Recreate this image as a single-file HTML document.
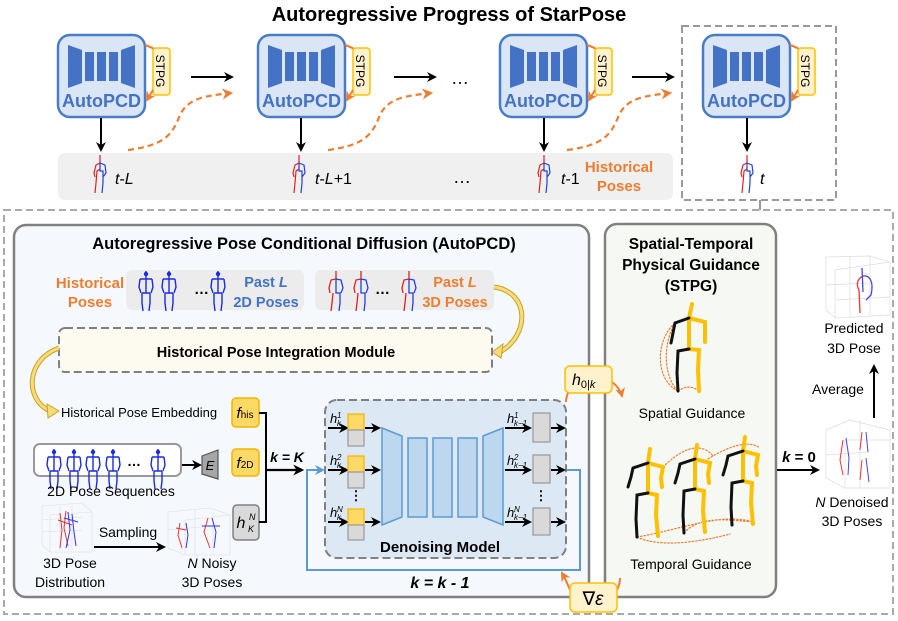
<!DOCTYPE html>
<html><head><meta charset="utf-8"><style>
html,body{margin:0;padding:0;background:#fff;}
svg{display:block;}
text{font-family:"Liberation Sans",sans-serif;}
</style></head><body>
<svg width="898" height="621" viewBox="0 0 898 621" xmlns="http://www.w3.org/2000/svg">
<defs>
<marker id="ak" viewBox="0 0 10 10" refX="8" refY="5" markerWidth="5" markerHeight="5" orient="auto"><path d="M0,0 L10,5 L0,10 L3,5z" fill="#000"/></marker>
<marker id="ao" viewBox="0 0 10 10" refX="8" refY="5" markerWidth="5" markerHeight="5" orient="auto"><path d="M0,0 L10,5 L0,10 L3,5z" fill="#ed7d31"/></marker>
<marker id="ab" viewBox="0 0 10 10" refX="8" refY="5" markerWidth="5" markerHeight="5" orient="auto"><path d="M0,0 L10,5 L0,10 L3,5z" fill="#5b9bd5"/></marker>
<g id="icon">
<rect x="0" y="0" width="87" height="82" rx="12" fill="#dae6f6" stroke="#4a7cc4" stroke-width="2.5"/>
<path d="M10,10 L24,15 L24,48 L10,53z" fill="#4472c4"/>
<rect x="27" y="17" width="9" height="29" fill="#4472c4"/>
<rect x="39" y="17" width="9" height="29" fill="#4472c4"/>
<rect x="51" y="17" width="9" height="29" fill="#4472c4"/>
<path d="M63,15 L77,10 L77,53 L63,48z" fill="#4472c4"/>
<text x="43.5" y="72" font-size="18" font-weight="bold" fill="#4472c4" text-anchor="middle">AutoPCD</text>
</g>
<g id="stpg">
<path d="M87,10 Q93,12 96,14" fill="none" stroke="#ed7d31" stroke-width="2"/>
<rect x="95" y="13" width="17" height="47" rx="3" fill="#fff2cc" stroke="#ffc000" stroke-width="1.5"/>
<text transform="translate(98,36) rotate(90)" font-size="12" text-anchor="middle">STPG</text>
<path d="M95,55 L89,65" fill="none" stroke="#ed7d31" stroke-width="2" marker-end="url(#ao)"/>
</g>
<g id="p3" fill="none" stroke-width="1.2">
<path d="M6,0 L6,8 L2,10 L0,18 L1,22 M6,14 L3,16 L2,28 L1,38" stroke="#e02020"/>
<path d="M6,8 L11,10 L12,18 L9,22 M6,8 L6,16 L9,16 L9,28 L8,38" stroke="#2040e0"/>
</g>
<g id="p2" fill="none" stroke="#1a2be0" stroke-width="1.4">
<path d="M8,0 L8,22 M2,8 L14,8 M2,8 L1,16 L3,22 M14,8 L15,16 L13,22 M4,22 L12,22 M4,22 L4,32 L5,40 M12,22 L12,32 L11,40"/>
<circle cx="8" cy="3" r="1.5" fill="#1a2be0"/>
</g>
<g id="p3b" fill="none" stroke-width="1.3">
<path d="M8,0 L8,8 L3,9 L1,17 L2,22 M5,22 L4,32 L3,40" stroke="#e02020"/>
<path d="M8,8 L13,9 L15,17 L13,22 M8,8 L8,22 L12,22 L12,32 L11,40" stroke="#2040e0"/>
</g>
</defs>

<text x="449" y="21" font-size="20" font-weight="bold" text-anchor="middle">Autoregressive Progress of StarPose</text>

<rect x="58" y="153" width="615" height="47" rx="7" fill="#f0f0f0"/>
<rect x="682" y="26" width="154" height="174" fill="none" stroke="#999" stroke-width="2" stroke-dasharray="7,4"/>
<path d="M760,200 L760,210" stroke="#999" stroke-width="2"/>
<rect x="4" y="210" width="889" height="404" fill="none" stroke="#aaa" stroke-width="2" stroke-dasharray="7,4"/>

<use href="#icon" x="58" y="35"/><use href="#stpg" x="58" y="35"/>
<use href="#icon" x="258" y="35"/><use href="#stpg" x="258" y="35"/>
<use href="#icon" x="500" y="35"/><use href="#stpg" x="500" y="35"/>
<use href="#icon" x="703" y="35"/><use href="#stpg" x="703" y="35"/>

<g stroke="#000" stroke-width="2" marker-end="url(#ak)">
<line x1="191" y1="77" x2="232" y2="77"/><line x1="394" y1="77" x2="435" y2="77"/><line x1="632" y1="77" x2="673" y2="77"/>
<line x1="101" y1="118" x2="101" y2="150"/><line x1="301" y1="118" x2="301" y2="150"/><line x1="544" y1="118" x2="544" y2="150"/><line x1="747" y1="118" x2="747" y2="150"/>
</g>
<text x="460" y="84" font-size="18" text-anchor="middle">…</text>
<text x="462" y="183" font-size="18" text-anchor="middle">…</text>
<g fill="none" stroke="#ed7d31" stroke-width="2.2" stroke-dasharray="6,4" marker-end="url(#ao)">
<path d="M128,150 C165,145 172,135 180,115 C188,98 205,96 231,93"/>
<path d="M328,150 C365,145 372,135 380,115 C388,98 405,96 431,93"/>
<path d="M567,150 C604,145 611,135 619,115 C627,98 644,96 670,93"/>
</g>
<use href="#p3" x="94" y="155"/><use href="#p3" x="293" y="155"/><use href="#p3" x="538" y="155"/><use href="#p3" x="741" y="155"/>
<text x="115" y="184" font-size="16"><tspan font-style="italic">t</tspan>-<tspan font-style="italic">L</tspan></text>
<text x="315" y="184" font-size="16"><tspan font-style="italic">t</tspan>-<tspan font-style="italic">L</tspan>+1</text>
<text x="561" y="184" font-size="16"><tspan font-style="italic">t</tspan>-1</text>
<text x="619" y="172" font-size="15" font-weight="bold" fill="#ed7d31" text-anchor="middle">Historical</text>
<text x="619" y="191" font-size="15" font-weight="bold" fill="#ed7d31" text-anchor="middle">Poses</text>
<text x="760" y="184" font-size="16" font-style="italic">t</text>

<rect x="14" y="225" width="575" height="372" rx="12" fill="#f5f9fd" stroke="#808080" stroke-width="2.5"/>
<text x="304" y="249" font-size="16.5" font-weight="bold" text-anchor="middle">Autoregressive Pose Conditional Diffusion (AutoPCD)</text>
<text x="90" y="288" font-size="15" font-weight="bold" fill="#ed7d31" text-anchor="middle">Historical</text>
<text x="90" y="307" font-size="15" font-weight="bold" fill="#ed7d31" text-anchor="middle">Poses</text>
<rect x="126" y="270" width="178" height="40" rx="6" fill="#ececec"/>
<rect x="315" y="270" width="179" height="40" rx="6" fill="#ececec"/>
<use href="#p2" x="138" y="271"/><use href="#p2" x="161" y="271"/><use href="#p2" x="210" y="271"/>
<text x="194" y="294" font-size="15" font-weight="bold">…</text>
<text x="266" y="287" font-size="14.5" font-weight="bold" fill="#4472c4" text-anchor="middle">Past <tspan font-style="italic">L</tspan></text>
<text x="266" y="307" font-size="14.5" font-weight="bold" fill="#4472c4" text-anchor="middle">2D Poses</text>
<use href="#p3b" x="328" y="271"/><use href="#p3b" x="353" y="271"/><use href="#p3b" x="401" y="271"/>
<text x="375" y="294" font-size="15" font-weight="bold">…</text>
<text x="455" y="287" font-size="14.5" font-weight="bold" fill="#ed7d31" text-anchor="middle">Past <tspan font-style="italic">L</tspan></text>
<text x="455" y="307" font-size="14.5" font-weight="bold" fill="#ed7d31" text-anchor="middle">3D Poses</text>
<path d="M494,287 C530,292 530,335 500,352" fill="none" stroke="#c9a227" stroke-width="5"/>
<path d="M494,287 C530,292 530,335 500,352" fill="none" stroke="#f6dc7a" stroke-width="3"/>
<path d="M492,352 L503,344 L501,358z" fill="#f6dc7a" stroke="#c9a227"/>
<rect x="59" y="328" width="433" height="44" rx="6" fill="#fdfaf0" stroke="#808080" stroke-width="2" stroke-dasharray="8,4"/>
<text x="276" y="357" font-size="14.5" font-weight="bold" text-anchor="middle">Historical Pose Integration Module</text>
<path d="M59,348 C25,360 25,400 50,411" fill="none" stroke="#c9a227" stroke-width="5"/>
<path d="M59,348 C25,360 25,400 50,411" fill="none" stroke="#f6dc7a" stroke-width="3"/>
<path d="M59,411 L47,404 L48,418z" fill="#f6dc7a" stroke="#c9a227"/>

<text x="61" y="417" font-size="13">Historical Pose Embedding</text>
<rect x="232" y="398" width="27" height="29" rx="4" fill="#ffd966" stroke="#f4b400" stroke-width="1.5"/>
<text x="245" y="418" font-size="15" font-family="Liberation Serif" text-anchor="middle"><tspan font-style="italic">f</tspan><tspan font-size="10">his</tspan></text>
<rect x="34" y="444" width="147" height="32" rx="6" fill="#fff" stroke="#999" stroke-width="2"/>
<use href="#p2" x="46" y="449"/><use href="#p2" x="66" y="449"/><use href="#p2" x="85" y="449"/><use href="#p2" x="105" y="449"/><use href="#p2" x="150" y="449"/>
<text x="127" y="466" font-size="14" font-weight="bold">…</text>
<line x1="182" y1="465" x2="200" y2="465" stroke="#000" stroke-width="2" marker-end="url(#ak)"/>
<path d="M202,456 L218,450 L218,479 L202,474z" fill="#a6a6a6" stroke="#555" stroke-width="1.2"/>
<text x="210" y="470" font-size="13" font-style="italic" text-anchor="middle">E</text>
<rect x="232" y="449" width="27" height="27" rx="4" fill="#ffd966" stroke="#f4b400" stroke-width="1.5"/>
<text x="245" y="468" font-size="15" font-family="Liberation Serif" text-anchor="middle"><tspan font-style="italic">f</tspan><tspan font-size="10">2D</tspan></text>
<text x="111" y="496" font-size="14" text-anchor="middle">2D Pose Sequences</text>
<g stroke="#ddd" stroke-width="0.6" fill="none">
<path d="M42,506 L82,503 L92,512 L92,552 L50,552 L42,545z M50,515 L92,512 M50,515 L50,552 M42,520 L82,517 M42,532 L82,530 M60,506 L60,550 M72,505 L72,550"/>
<path d="M168,512 L210,508 L230,515 L230,555 L185,555 L168,548z M185,520 L230,515 M185,520 L185,555 M168,530 L210,526 M195,510 L195,555 M213,512 L213,555"/>
</g>
<g fill="none" stroke-width="1">
<path d="M60,513 L62,530 L60,548 M66,511 L64,528 L68,546 M58,520 L72,525" stroke="#e33"/>
<path d="M68,512 L70,530 L66,548 M72,514 L74,532 L76,546 M64,518 L78,522" stroke="#33e"/>
<path d="M180,523 L178,535 L182,548 M176,528 L186,530" stroke="#e33"/><path d="M186,523 L188,535 L186,548" stroke="#33e"/>
<path d="M208,518 L204,532 L210,548" stroke="#e33"/><path d="M212,518 L216,532 L214,548 M202,526 L220,526" stroke="#33e"/>
</g>
<text x="128" y="537" font-size="14" text-anchor="middle">Sampling</text>
<line x1="94" y1="547" x2="164" y2="547" stroke="#000" stroke-width="2" marker-end="url(#ak)"/>
<text x="70" y="568" font-size="14" text-anchor="middle">3D Pose</text>
<text x="70" y="587" font-size="14" text-anchor="middle">Distribution</text>
<text x="212" y="568" font-size="14" text-anchor="middle"><tspan font-style="italic">N</tspan> Noisy</text>
<text x="212" y="587" font-size="14" text-anchor="middle">3D Poses</text>
<rect x="233" y="505" width="26" height="35" rx="4" fill="#d9d9d9" stroke="#808080" stroke-width="1.5"/>
<text x="241" y="528" font-size="16" font-family="Liberation Serif" font-style="italic" text-anchor="middle">h</text>
<text x="249" y="520" font-size="9" font-family="Liberation Serif" font-style="italic">N</text>
<text x="248" y="532" font-size="9" font-family="Liberation Serif" font-style="italic">K</text>
<path d="M259,413 L266,413 L266,522 L259,522" fill="none" stroke="#000" stroke-width="2"/>
<line x1="266" y1="470" x2="302" y2="470" stroke="#000" stroke-width="2.2" marker-end="url(#ak)"/>
<text x="287" y="462" font-size="14" font-weight="bold" font-style="italic" text-anchor="middle">k = K</text>

<path d="M566,470 L580,470 L580,570 L307,570 L307,470 L323,470" fill="none" stroke="#5b9bd5" stroke-width="2" marker-end="url(#ab)"/>
<rect x="325" y="400" width="241" height="158" rx="12" fill="#dde8f5" stroke="#808080" stroke-width="2" stroke-dasharray="8,4"/>
<g stroke="#000" stroke-width="2" marker-end="url(#ak)">
<line x1="328" y1="428" x2="347" y2="428"/><line x1="328" y1="470" x2="347" y2="470"/><line x1="328" y1="522" x2="347" y2="522"/>
<line x1="365" y1="428" x2="379" y2="428"/><line x1="365" y1="470" x2="379" y2="470"/><line x1="365" y1="522" x2="379" y2="522"/>
<line x1="505" y1="428" x2="530" y2="428"/><line x1="505" y1="470" x2="530" y2="470"/><line x1="505" y1="522" x2="530" y2="522"/>
<line x1="551" y1="428" x2="564" y2="428"/><line x1="551" y1="470" x2="564" y2="470"/><line x1="551" y1="522" x2="564" y2="522"/>
</g>
<g stroke="#f4b400" stroke-width="1.2" fill="#ffd966">
<rect x="348" y="414" width="16" height="16"/><rect x="348" y="456" width="16" height="16"/><rect x="348" y="509" width="16" height="16"/></g>
<g stroke="#999" stroke-width="1.2" fill="#d9d9d9">
<rect x="348" y="430" width="16" height="16"/><rect x="348" y="472" width="16" height="16"/><rect x="348" y="525" width="16" height="15"/>
<rect x="533" y="413" width="17" height="29"/><rect x="533" y="455" width="17" height="28"/><rect x="533" y="508" width="17" height="27"/></g>
<text x="356" y="500" font-size="13" font-weight="bold" text-anchor="middle">⋮</text>
<text x="541" y="500" font-size="13" font-weight="bold" text-anchor="middle">⋮</text>
<g fill="#bdd7ee" stroke="#5b9bd5" stroke-width="1.5">
<path d="M382,428 L402,436 L402,517 L382,525z"/>
<rect x="408" y="438" width="19" height="79"/><rect x="433" y="438" width="19" height="79"/><rect x="458" y="438" width="19" height="79"/>
<path d="M483,436 L503,428 L503,525 L483,517z"/>
</g>
<g font-family="Liberation Serif" font-style="italic">
<text x="330" y="423" font-size="13">h</text><text x="337" y="418" font-size="8">1</text><text x="337" y="426" font-size="8">k</text>
<text x="330" y="465" font-size="13">h</text><text x="337" y="460" font-size="8">2</text><text x="337" y="468" font-size="8">k</text>
<text x="330" y="517" font-size="13">h</text><text x="337" y="512" font-size="8">N</text><text x="337" y="520" font-size="8">k</text>
<text x="507" y="423" font-size="13">h</text><text x="514" y="418" font-size="8">1</text><text x="514" y="426" font-size="8">k−1</text>
<text x="507" y="465" font-size="13">h</text><text x="514" y="460" font-size="8">2</text><text x="514" y="468" font-size="8">k−1</text>
<text x="507" y="517" font-size="13">h</text><text x="514" y="512" font-size="8">N</text><text x="514" y="520" font-size="8">k−1</text>
</g>
<text x="440" y="552" font-size="15" font-weight="bold" text-anchor="middle">Denoising Model</text>
<text x="440" y="588" font-size="16" font-weight="bold" font-style="italic" text-anchor="middle">k = k - 1</text>

<rect x="605" y="224" width="171" height="373" rx="12" fill="#f6f8f3" stroke="#808080" stroke-width="2.5"/>
<text x="691" y="249" font-size="15.5" font-weight="bold" text-anchor="middle">Spatial-Temporal</text>
<text x="691" y="270" font-size="15.5" font-weight="bold" text-anchor="middle">Physical Guidance</text>
<text x="691" y="291" font-size="15.5" font-weight="bold" text-anchor="middle">(STPG)</text>
<g stroke-linecap="round" fill="none">
<path d="M675,323 C655,340 655,380 678,391 M675,323 C662,345 664,378 678,391 M678,391 C688,384 695,388 699,391 M689,318 L705,322" stroke="#ed7d31" stroke-width="1.2" stroke-dasharray="1.5,2"/>
<path d="M692,304 L689,318 L689,349 M689,318 L705,322 L705,342 M689,349 L699,350 L698,370 L699,391" stroke="#ffc000" stroke-width="4"/>
<path d="M689,318 L675,323 L671,343 M689,349 L678,351 L677,373 L678,391" stroke="#111" stroke-width="3"/>
</g>
<text x="692" y="418" font-size="14" text-anchor="middle">Spatial Guidance</text>
<g stroke-linecap="round" fill="none">
<path d="M663,467 C680,450 700,440 713,456 M708,459 C730,445 750,440 760,448 M637,537 C660,548 700,542 730,534 M637,537 C680,530 720,512 753,522 M684,533 C700,515 730,520 753,522" stroke="#ed7d31" stroke-width="1.2" stroke-dasharray="1.5,2"/>
<g id="tk">
<path d="M650,449 L648,463 L648,493 M648,463 L663,467 L661,478 L662,487 M648,493 L657,495 L656,515 L658,536" stroke="#ffc000" stroke-width="4"/>
<path d="M648,463 L633,468 L631,477 L628,487 M648,493 L637,495 L636,519 L637,537" stroke="#111" stroke-width="3"/>
</g>
<use href="#tk" x="47" y="-4"/><use href="#tk" x="95" y="-12"/>
</g>
<text x="691" y="569" font-size="14" text-anchor="middle">Temporal Guidance</text>

<path d="M568,393 Q566,398 566,402" stroke="#ed7d31" stroke-width="2" fill="none"/>
<path d="M612,382 Q620,388 622,396" stroke="#ed7d31" stroke-width="2" fill="none" marker-end="url(#ao)"/>
<rect x="565" y="366" width="47" height="27" rx="5" fill="#fff2cc" stroke="#ffc000" stroke-width="1.5"/>
<text x="572" y="385" font-size="16" font-family="Liberation Serif" font-style="italic">h<tspan font-size="11" font-style="normal" dy="3">0|</tspan><tspan font-size="11">k</tspan></text>
<path d="M570,590 Q566,580 562,573" stroke="#ed7d31" stroke-width="2" fill="none" marker-end="url(#ao)"/>
<path d="M617,590 Q620,584 620,578" stroke="#ed7d31" stroke-width="2" fill="none"/>
<rect x="570" y="583" width="47" height="29" rx="5" fill="#fff2cc" stroke="#ffc000" stroke-width="1.5"/>
<text x="593" y="605" font-size="19" font-family="Liberation Serif" text-anchor="middle">∇<tspan font-style="italic">ε</tspan></text>

<line x1="777" y1="470" x2="818" y2="470" stroke="#000" stroke-width="2" marker-end="url(#ak)"/>
<text x="799" y="462" font-size="15" font-weight="bold" text-anchor="middle"><tspan font-style="italic">k</tspan> = 0</text>
<g stroke="#ddd" stroke-width="0.7" fill="none">
<path d="M826,257 L870,256 L890,262 L890,315 L835,318 L826,310z M835,270 L890,262 M835,270 L835,318 M826,285 L870,283 M850,257 L850,318 M870,256 L870,316 M835,300 L890,297"/>
<path d="M826,430 L850,420 L890,430 L890,488 L845,488 L826,478z M845,440 L890,440 M845,440 L845,488 M826,455 L870,452 M860,420 L860,488"/>
</g>
<path d="M863,276 C857,279 856,285 859,290 L860,313" fill="none" stroke="#e33" stroke-width="1.3"/>
<path d="M862,268 L863,292 M863,276 C870,275 874,282 871,295 L866,300" fill="none" stroke="#44e" stroke-width="1.3"/>
<path d="M843,440 L840,460 L843,475" fill="none" stroke="#e33" stroke-width="1"/><path d="M846,438 L849,458 L848,475" fill="none" stroke="#44e" stroke-width="1"/>
<path d="M862,432 L860,450" fill="none" stroke="#e33" stroke-width="1"/><path d="M866,432 L868,452" fill="none" stroke="#44e" stroke-width="1"/>
<path d="M862,460 L860,480" fill="none" stroke="#e33" stroke-width="1"/><path d="M866,458 L869,482" fill="none" stroke="#44e" stroke-width="1"/>
<text x="854" y="333" font-size="14" text-anchor="middle">Predicted</text>
<text x="854" y="353" font-size="14" text-anchor="middle">3D Pose</text>
<line x1="874" y1="418" x2="874" y2="366" stroke="#000" stroke-width="2" marker-end="url(#ak)"/>
<text x="838" y="394" font-size="14" text-anchor="middle">Average</text>
<text x="852" y="507" font-size="14" text-anchor="middle"><tspan font-style="italic">N</tspan> Denoised</text>
<text x="852" y="526" font-size="14" text-anchor="middle">3D Poses</text>
</svg>
</body></html>
